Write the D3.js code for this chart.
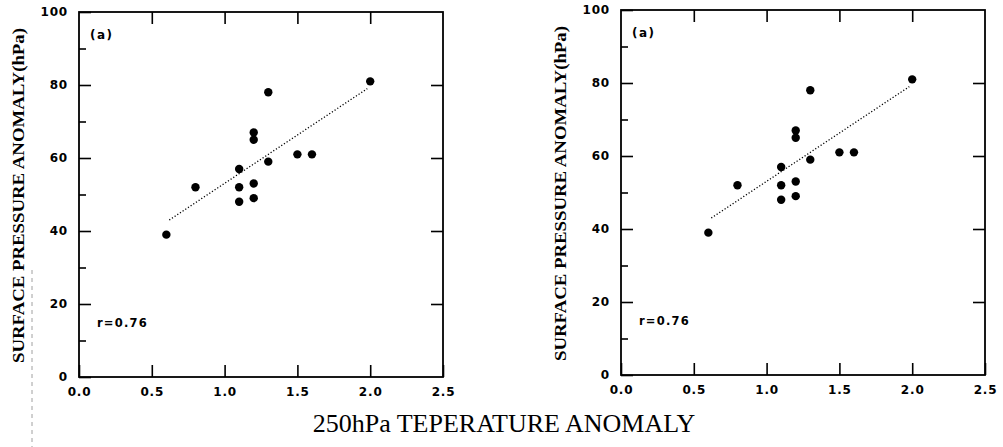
<!DOCTYPE html>
<html>
<head>
<meta charset="utf-8">
<script src="https://cdn.jsdelivr.net/npm/d3@7"></script>
<style>
  body { margin: 0; background: #fff; }
  svg { display: block; }
  .tick text { font-family: "DejaVu Sans", sans-serif; font-weight: bold; font-size: 12px; letter-spacing: 0.8px; fill: #000; }
  .domain { display: none; }
  .tick line { stroke: #000; stroke-width: 1.6; }
  .ytitle { font-family: "Liberation Serif", serif; font-weight: bold; font-size: 16.5px; }
</style>
</head>
<body>
<svg id="canvas" width="1003" height="447"></svg>
<script>
// 250hPa temperature anomaly vs surface pressure anomaly
const tempAnomaly = [0.6, 0.8, 1.1, 1.1, 1.1, 1.2, 1.2, 1.2, 1.2, 1.3, 1.3, 1.5, 1.6, 2.0];
const pressAnomaly = [39, 52, 57, 52, 48, 67, 65, 53, 49, 78, 59, 61, 61, 81];

// dotted regression line end points
const fitX = [0.62, 1.98];
const fitY = [43, 79];

const xTicks = [0.0, 0.5, 1.0, 1.5, 2.0, 2.5];
const yTicks = [0, 20, 40, 60, 80, 100];
const yMinorTicks = [10, 30, 50, 70, 90];

const panelLabel = "(a)";
const corrLabel = "r=0.76";
const yTitle = "SURFACE PRESSURE ANOMALY(hPa)";
const xTitle = "250hPa TEPERATURE ANOMALY";

const svg = d3.select("#canvas");

const points = tempAnomaly.map((t, i) => ({ t: t, p: pressAnomaly[i] }));
const fit = fitX.map((t, i) => ({ t: t, p: fitY[i] }));

const drawPanel = (left, top) => {
  const w = 364;
  const h = 365;
  const g = svg.append("g").attr("transform", `translate(${left},${top})`);

  const x = d3.scaleLinear().domain([0, 2.5]).range([0, w]);
  const y = d3.scaleLinear().domain([0, 100]).range([h, 0]);

  // axes, ticks pointing inward
  g.append("g")
    .attr("transform", `translate(0,${h})`)
    .call(d3.axisBottom(x).tickValues(xTicks).tickSize(-12).tickPadding(10).tickFormat(d3.format(".1f")));
  g.append("g")
    .call(d3.axisTop(x).tickValues(xTicks.slice(1, -1)).tickSize(-12).tickFormat(""));
  g.append("g")
    .call(d3.axisLeft(y).tickValues(yTicks).tickSize(-12).tickPadding(11).tickFormat(d3.format("d")));
  g.append("g")
    .call(d3.axisLeft(y).tickValues(yMinorTicks).tickSize(-7).tickFormat(""));
  g.append("g")
    .attr("transform", `translate(${w},0)`)
    .call(d3.axisRight(y).tickValues(yTicks.slice(1, -1)).tickSize(-12).tickFormat(""));

  g.append("rect")
    .attr("width", w)
    .attr("height", h)
    .attr("fill", "none")
    .attr("stroke", "#000")
    .attr("stroke-width", 1.8);

  g.append("path")
    .datum(fit)
    .attr("d", d3.line().x((d) => x(d.t)).y((d) => y(d.p)))
    .attr("fill", "none")
    .attr("stroke", "#000")
    .attr("stroke-width", 1.3)
    .attr("stroke-dasharray", "1.2,2");

  g.selectAll("circle")
    .data(points)
    .enter()
    .append("circle")
    .attr("cx", (d) => x(d.t))
    .attr("cy", (d) => y(d.p))
    .attr("r", 4.2)
    .attr("fill", "#000");

  g.append("text")
    .attr("x", 11)
    .attr("y", 27)
    .attr("font-family", "DejaVu Sans, sans-serif")
    .attr("font-weight", "bold")
    .attr("font-size", 12)
    .attr("letter-spacing", 1.5)
    .text(panelLabel);

  g.append("text")
    .attr("x", 18)
    .attr("y", 315)
    .attr("font-family", "DejaVu Sans, sans-serif")
    .attr("font-weight", "bold")
    .attr("font-size", 11.5)
    .attr("letter-spacing", 1.2)
    .text(corrLabel);

  g.append("text")
    .attr("class", "ytitle")
    .attr("transform", `translate(-55,${h / 2 + 1}) rotate(-90)`)
    .attr("text-anchor", "middle")
    .attr("textLength", 335)
    .attr("lengthAdjust", "spacingAndGlyphs")
    .text(yTitle);
};

drawPanel(79, 12);
drawPanel(621, 10);

svg.append("text")
  .attr("x", 504)
  .attr("y", 432)
  .attr("text-anchor", "middle")
  .attr("font-family", "Liberation Serif, serif")
  .attr("font-size", 26)
  .text(xTitle);

// faint scan mark at the left edge
svg.append("line")
  .attr("x1", 32).attr("x2", 32)
  .attr("y1", 270).attr("y2", 447)
  .attr("stroke", "#888")
  .attr("stroke-width", 0.8)
  .attr("stroke-dasharray", "4,4");
</script>
</body>
</html>
